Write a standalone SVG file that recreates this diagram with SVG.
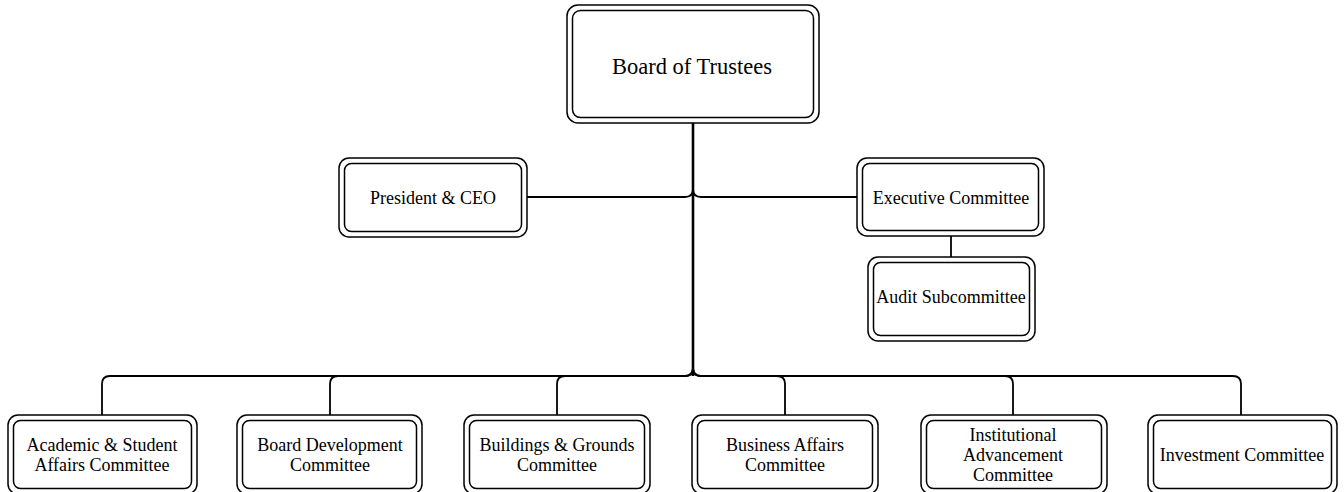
<svg xmlns="http://www.w3.org/2000/svg" width="1344" height="492" viewBox="0 0 1344 492">
<style>
.o{fill:#fff;stroke:#000;stroke-width:1.5}
.i{fill:#fff;stroke:#000;stroke-width:1.5}
.t{font-family:"Liberation Serif","Times New Roman",serif;font-size:18px;fill:#000;text-anchor:middle}
.big{font-size:22.5px}
.c{fill:none;stroke:#000;stroke-width:1.8}
.m{fill:none;stroke:#000;stroke-width:2.6}
</style>
<g id="connectors">
<path class="m" d="M693,123 V376"/>
<path class="c" d="M527,197 H685 Q693,197 693,189"/>
<path class="c" d="M857,197 H701 Q693,197 693,189"/>
<path class="c" d="M951,236 V257"/>
<path class="c" d="M693,368 Q693,376 685,376 H110 Q102,376 102,384 V415"/>
<path class="c" d="M693,368 Q693,376 685,376 H338 Q330,376 330,384 V415"/>
<path class="c" d="M693,368 Q693,376 685,376 H565 Q557,376 557,384 V415"/>
<path class="c" d="M693,368 Q693,376 701,376 H777 Q785,376 785,384 V415"/>
<path class="c" d="M693,368 Q693,376 701,376 H1005 Q1013,376 1013,384 V415"/>
<path class="c" d="M693,368 Q693,376 701,376 H1233 Q1241,376 1241,384 V415"/>
</g>
<g id="board">
<rect class="o" x="567" y="5" width="252" height="118" rx="11"/>
<rect class="i" x="572.5" y="10.5" width="241" height="107" rx="8"/>
<text class="t big" x="692" y="74">Board of Trustees</text>
</g>
<g id="president">
<rect class="o" x="339" y="158" width="188" height="79" rx="10"/>
<rect class="i" x="344.5" y="163.5" width="177" height="68" rx="7"/>
<text class="t" x="433" y="204">President &amp; CEO</text>
</g>
<g id="executive">
<rect class="o" x="857" y="158" width="187" height="78" rx="10"/>
<rect class="i" x="862.5" y="163.5" width="176" height="67" rx="7"/>
<text class="t" x="951" y="204">Executive Committee</text>
</g>
<g id="audit">
<rect class="o" x="868" y="257" width="167" height="84" rx="10"/>
<rect class="i" x="873.5" y="262.5" width="156" height="73" rx="7"/>
<text class="t" x="951" y="303">Audit Subcommittee</text>
</g>
<g id="academic">
<rect class="o" x="8" y="415" width="189" height="79" rx="10"/>
<rect class="i" x="13.5" y="420.5" width="178" height="68" rx="7"/>
<text class="t" x="102" y="451">Academic &amp; Student</text>
<text class="t" x="102" y="471">Affairs Committee</text>
</g>
<g id="boarddev">
<rect class="o" x="237" y="415" width="185" height="79" rx="10"/>
<rect class="i" x="242.5" y="420.5" width="174" height="68" rx="7"/>
<text class="t" x="330" y="451">Board Development</text>
<text class="t" x="330" y="471">Committee</text>
</g>
<g id="buildings">
<rect class="o" x="464" y="415" width="186" height="79" rx="10"/>
<rect class="i" x="469.5" y="420.5" width="175" height="68" rx="7"/>
<text class="t" x="557" y="451">Buildings &amp; Grounds</text>
<text class="t" x="557" y="471">Committee</text>
</g>
<g id="business">
<rect class="o" x="692" y="415" width="186" height="79" rx="10"/>
<rect class="i" x="697.5" y="420.5" width="175" height="68" rx="7"/>
<text class="t" x="785" y="451">Business Affairs</text>
<text class="t" x="785" y="471">Committee</text>
</g>
<g id="institutional">
<rect class="o" x="921" y="415" width="186" height="79" rx="10"/>
<rect class="i" x="926.5" y="420.5" width="175" height="68" rx="7"/>
<text class="t" x="1013" y="441">Institutional</text>
<text class="t" x="1013" y="461">Advancement</text>
<text class="t" x="1013" y="481">Committee</text>
</g>
<g id="investment">
<rect class="o" x="1148" y="415" width="189" height="79" rx="10"/>
<rect class="i" x="1153.5" y="420.5" width="178" height="68" rx="7"/>
<text class="t" x="1242" y="461">Investment Committee</text>
</g>
</svg>
